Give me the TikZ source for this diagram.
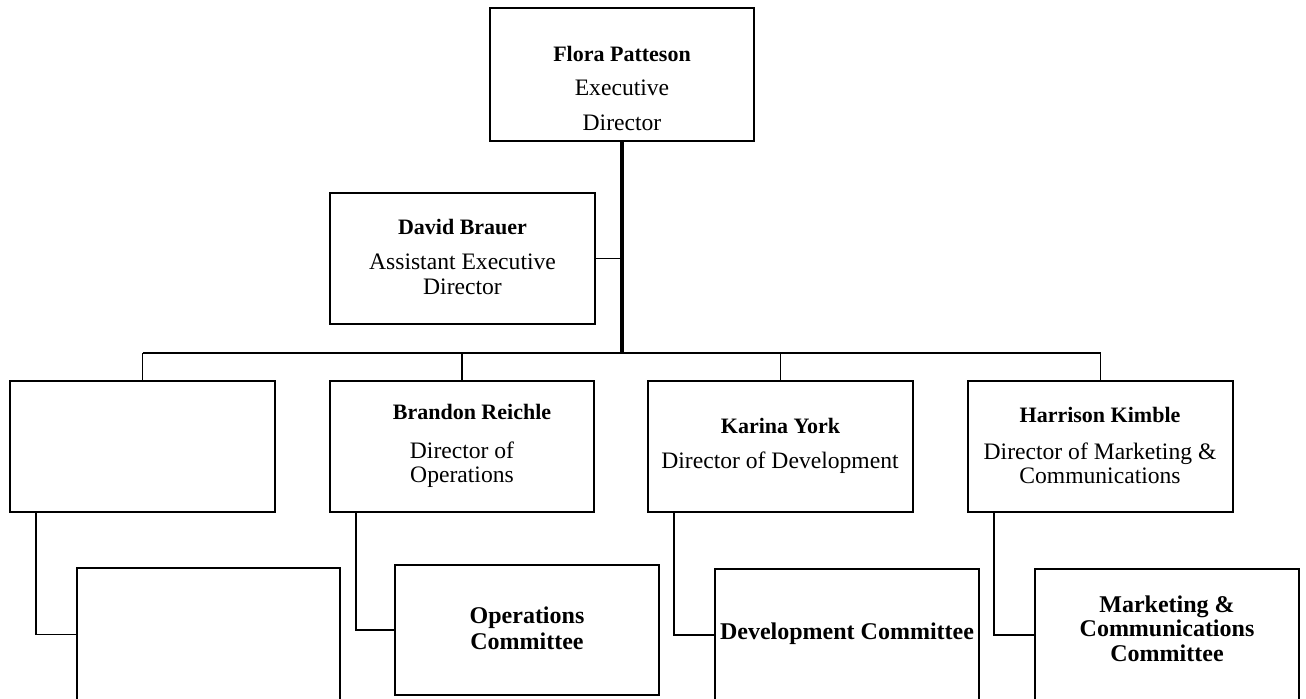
\documentclass[tikz,border=0pt]{standalone}
\usepackage{fontspec}
\setmainfont{Liberation Serif}
\begin{document}
\begin{tikzpicture}[x=0.5pt,y=-0.5pt,
  orgbox/.style={draw, line width=0.9pt, rectangle, inner sep=0pt, minimum width=132pt, minimum height=65.5pt},
  conn/.style={line width=0.9pt},
  stemline/.style={line width=1.6pt},
  nametext/.style={font=\fontsize{11}{13}\selectfont\bfseries, anchor=base, inner sep=0pt},
  titletext/.style={font=\fontsize{11.8}{14}\selectfont, anchor=base, inner sep=0pt},
  comtext/.style={font=\fontsize{12}{14}\selectfont\bfseries, anchor=base, inner sep=0pt}]
\useasboundingbox (0,0) rectangle (1306,698);
% boxes
\node[orgbox, minimum height=66.5pt] (top) at (622,74.5) {};
\node[orgbox, minimum width=132.5pt] (david) at (462.5,258.5) {};
\node[orgbox, minimum width=132.5pt] (b1) at (142.5,446.5) {};
\node[orgbox] (b2) at (462,446.5) {};
\node[orgbox, minimum width=132.5pt] (b3) at (780.5,446.5) {};
\node[orgbox, minimum width=132.5pt] (b4) at (1100.5,446.5) {};
\node[orgbox, minimum width=131.5pt, minimum height=66.5pt] (c1) at (208.5,634.5) {};
\node[orgbox, minimum height=65pt] (c2) at (527,630) {};
\node[orgbox, minimum height=66pt] (c3) at (847,635) {};
\node[orgbox, minimum height=66pt] (c4) at (1167,635) {};
% texts
\node[nametext] (t1) at (622,61) {Flora Patteson};
\node[titletext] (t2) at (622,95) {Executive};
\node[titletext] (t3) at (622,130) {Director};
\node[nametext] (d1) at (462.5,234) {David Brauer};
\node[titletext] (d2) at (462.5,269) {Assistant Executive};
\node[titletext] (d3) at (462.5,294) {Director};
\node[nametext] (r1) at (472,419) {Brandon Reichle};
\node[titletext] (r2) at (462,458) {Director of};
\node[titletext] (r3) at (462,482) {Operations};
\node[nametext] (k1) at (780.5,433) {Karina York};
\node[titletext] (k2) at (780,468) {Director of Development};
\node[nametext] (h1) at (1100,422) {Harrison Kimble};
\node[titletext] (h2) at (1100,459) {Director of Marketing \&};
\node[titletext] (h3) at (1100,483) {Communications};
\node[comtext] (o1) at (527,623) {Operations};
\node[comtext] (o2) at (527,649) {Committee};
\node[comtext] (v1) at (847,639) {Development Committee};
\node[comtext] (m1) at (1167,612) {Marketing \&};
\node[comtext] (m2) at (1167,636) {Communications};
\node[comtext] (m3) at (1167,661) {Committee};
% connectors
\coordinate (j) at (622,353);
\draw[stemline] (top.south) -- (j);
\draw[conn] (david.east) -- (david.east -| j);
\draw[conn] (b1.north |- j) -- (b4.north |- j);
\foreach \b in {b1,b2,b3,b4} \draw[conn] (\b.north) -- (\b.north |- j);
\draw[conn] ([xshift=13.5pt]b1.south west) |- (c1.west);
\draw[conn] ([xshift=13.5pt]b2.south west) |- (c2.west);
\draw[conn] ([xshift=13.5pt]b3.south west) |- (c3.west);
\draw[conn] ([xshift=13.5pt]b4.south west) |- (c4.west);
\end{tikzpicture}
\end{document}
